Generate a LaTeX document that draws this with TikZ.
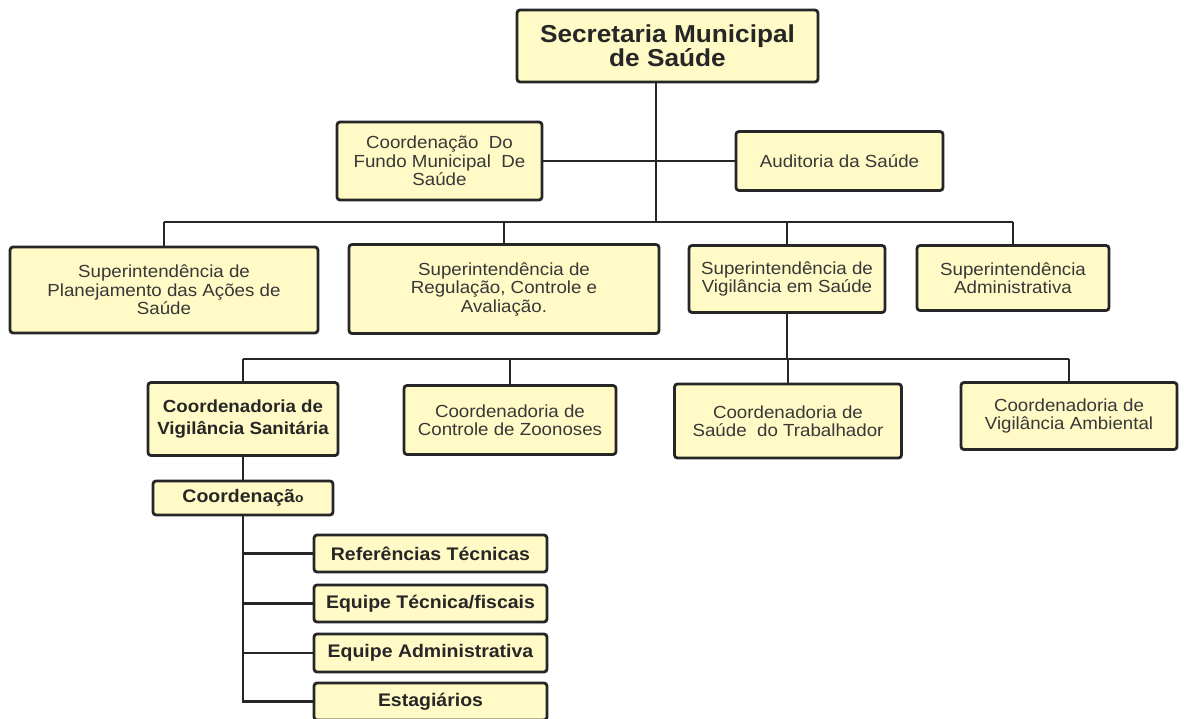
\documentclass[tikz,border=0pt]{standalone}
\usepackage{fontspec}
\setmainfont{Liberation Sans}
\newfontfamily\orgfont[FakeStretch=1.07]{Liberation Sans}
\usepackage{tikz}
\usetikzlibrary{positioning}
\definecolor{boxfill}{HTML}{FFFAC6}
\definecolor{boxline}{HTML}{262626}
\definecolor{textgray}{HTML}{383838}

\begin{document}
\begin{tikzpicture}[
  x=1pt, y=-1pt,
  box/.style={draw=boxline, line width=2.8pt, rounded corners=3pt, fill=boxfill, align=center, text=textgray, inner sep=1pt, font=\orgfont\fontsize{17.5}{18.5}\selectfont},
  boldbox/.style={box, text=boxline, font=\orgfont\bfseries\fontsize{17.5}{22}\selectfont},
  smallbox/.style={box, text=boxline, font=\orgfont\bfseries\fontsize{18.2}{19}\selectfont},
  link/.style={draw=boxline, line width=2.8pt}
]
  \useasboundingbox (0,0) rectangle (1184,718);

  \node[box, text=boxline, font=\orgfont\bfseries\fontsize{24.5}{22}\selectfont, minimum width=301, minimum height=72] (sec) at (667.5,46) {Secretaria Municipal\\de Saúde};
  \node[box, minimum width=205, minimum height=78] (fundo) at (439.5,161) {Coordenação~ Do\\Fundo Municipal~ De\\Saúde};
  \node[box, minimum width=207, minimum height=59] (aud) at (839.5,161) {Auditoria da Saúde};

  \node[box, minimum width=308, minimum height=86] (planej) at (164,290) {Superintendência de\\Planejamento das Ações de\\Saúde};
  \node[box, minimum width=310, minimum height=89] (regul) at (504,289) {Superintendência de\\Regulação, Controle e\\Avaliação.};
  \node[box, minimum width=196, minimum height=67] (vigil) at (787,279) {Superintendência de\\Vigilância em Saúde};
  \node[box, minimum width=192, minimum height=65] (admin) at (1013,278) {Superintendência\\Administrativa};

  \node[boldbox, minimum width=190, minimum height=73] (sanit) at (243,419) {Coordenadoria de\\Vigilância Sanitária};
  \node[box, minimum width=212, minimum height=69] (zoon) at (510,420) {Coordenadoria de\\Controle de Zoonoses};
  \node[box, minimum width=227, minimum height=74] (trab) at (788,421) {Coordenadoria de\\Saúde~ do Trabalhador};
  \node[box, minimum width=216, minimum height=67] (amb) at (1069,416) {Coordenadoria de\\Vigilância Ambiental};

  \node[smallbox, minimum width=180, minimum height=34] (coord) at (243,498) {Coordenaçã{\fontsize{13}{14}\selectfont o}};
  \node[smallbox, minimum width=233, minimum height=37] (ref) at (430.5,553.5) {Referências Técnicas};
  \node[smallbox, minimum width=233, minimum height=37] (eqtec) at (430.5,603.5) {Equipe Técnica/fiscais};
  \node[smallbox, minimum width=233, minimum height=38] (eqadm) at (430.5,653) {Equipe Administrativa};
  \node[smallbox, minimum width=233, minimum height=37] (estag) at (430.5,701.5) {Estagiários};

  \coordinate (bus1) at (656,222);
  \coordinate (bus2) at (787,359);

  \draw[link] (sec.south -| bus1) -- (bus1);
  \draw[link] (fundo.east) -- (aud.west);
  \draw[link] (planej.north |- bus1) -- (admin.north |- bus1);
  \foreach \n in {planej,regul,vigil,admin}
    \draw[link] (\n.north |- bus1) -- (\n.north);

  \draw[link] (vigil.south) -- (bus2);
  \draw[link] (sanit.north |- bus2) -- (amb.north |- bus2);
  \foreach \n in {sanit,zoon,trab,amb}
    \draw[link] (\n.north |- bus2) -- (\n.north);

  \draw[link] (sanit.south) -- (coord.north);
  \draw[link] (coord.south) |- (estag.west);
  \foreach \n in {ref,eqtec,eqadm}
    \draw[link] (coord.south |- \n.west) -- (\n.west);
\end{tikzpicture}
\end{document}
